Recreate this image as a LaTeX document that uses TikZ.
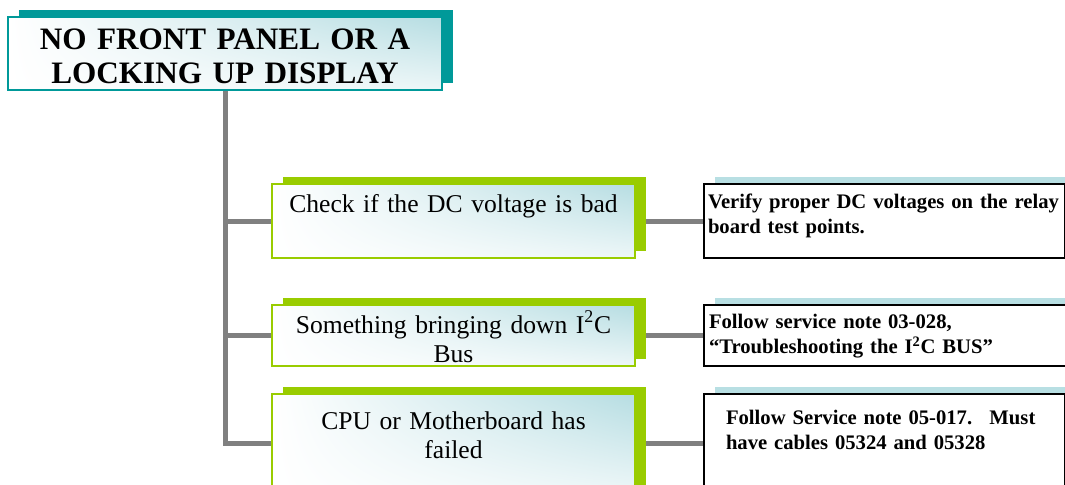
\documentclass[tikz,border=0pt]{standalone}
\usepackage{fontspec}
\setmainfont{Liberation Serif}
\usetikzlibrary{shadows,shadings,backgrounds}
\definecolor{panelteal}{RGB}{0,153,153}
\definecolor{leafgreen}{RGB}{153,204,0}
\definecolor{stripblue}{RGB}{184,223,227}
\definecolor{glowblue}{RGB}{182,221,226}
\definecolor{linkgray}{RGB}{128,128,128}

\tikzset{
  glow/.style={upper right=glowblue, upper left=white, lower left=white, lower right=glowblue!25},
  lift/.style={drop shadow={shadow xshift=8.25pt, shadow yshift=5.25pt, fill=#1, opacity=1}},
  titlebox/.style={draw=panelteal, line width=1.5pt, glow, lift=panelteal, anchor=north west,
    inner sep=0pt, text width=325.5pt, align=center, font=\fontsize{23.4}{25.5}\bfseries},
  causebox/.style={draw=leafgreen, line width=1.5pt, glow, lift=leafgreen, anchor=north west,
    inner sep=0pt, text width=272.25pt, align=center, font=\fontsize{19.2}{22}\selectfont},
  fixbox/.style={draw=black, line width=1.5pt, fill=white, lift=stripblue, anchor=north west,
    inner ysep=0pt, align=left, font=\fontsize{15.5}{18.75}\bfseries,
    execute at begin node={\hyphenpenalty=10000 \exhyphenpenalty=10000 }},
  link/.style={draw=linkgray, line width=3.75pt}
}

\begin{document}
\begin{tikzpicture}[x=0.75pt, y=-0.75pt]
    \useasboundingbox (0,0) rectangle (1065,485);
    \clip (0,0) rectangle (1065,485);

    % problem
    \node[titlebox, text height=24.75pt, text depth=30pt] (title) at (7,16) {NO FRONT PANEL OR A\\LOCKING UP DISPLAY};

    % possible causes
    \node[causebox, text height=21pt, text depth=34.5pt] (dcbad) at (271,183) {Check if the DC voltage is bad};
    \node[causebox, text height=21pt, text depth=24.75pt] (i2c) at (271,304) {Something bringing down I\textsuperscript{2}C\\Bus};
    \node[causebox, text height=26.25pt, text depth=47.25pt] (cpu) at (271,393) {CPU or Motherboard has\\failed};

    % remedies
    \node[fixbox, inner xsep=3pt, text width=264.75pt, text height=18.375pt, text depth=37.125pt] (verify) at (703,183) {Verify proper DC voltages on the relay\\board test points.};
    \node[fixbox, inner xsep=3.75pt, text width=300pt, text height=17.25pt, text depth=28.5pt] (svc) at (703,304) {Follow service note 03-028,\\``Troubleshooting the I\textsuperscript{2}C BUS''};
    \node[fixbox, inner xsep=16.5pt, text width=237.75pt, text height=22.5pt, text depth=51pt] (cables) at (703,393) {Follow Service note 05-017.~ Must\\have cables 05324 and 05328};

    \begin{scope}[on background layer]
        \draw[link] (title.south) |- (cpu.west);
        \draw[link] (title.south |- dcbad.west) -- (dcbad.west);
        \draw[link] (title.south |- i2c.west) -- (i2c.west);
        \draw[link] (dcbad.east) -- (verify.west);
        \draw[link] (i2c.east) -- (svc.west);
        \draw[link] (cpu.east) -- (cables.west);
    \end{scope}
\end{tikzpicture}
\end{document}
